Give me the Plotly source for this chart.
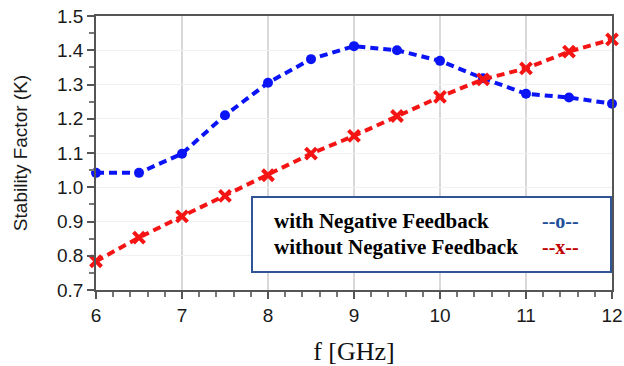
import plotly.graph_objects as go

freq = [6, 6.5, 7, 7.5, 8, 8.5, 9, 9.5, 10, 10.5, 11, 11.5, 12]
k_with = [1.042, 1.042, 1.098, 1.21, 1.305, 1.374, 1.412, 1.40, 1.369, 1.318, 1.273, 1.262, 1.244]
k_without = [0.784, 0.853, 0.915, 0.975, 1.035, 1.098, 1.15, 1.208, 1.264, 1.315, 1.347, 1.396, 1.432]
legend_labels = ["with Negative Feedback", "without Negative Feedback"]
legend_symbols = ["--o--", "--x--"]

fig = go.Figure()
fig.add_trace(go.Scatter(
    x=freq, y=k_with, mode="lines+markers",
    line=dict(color="#0a14f5", width=4, dash="8px,5px"),
    marker=dict(symbol="circle", size=10, color="#0a14f5"),
    showlegend=False, cliponaxis=False))
fig.add_trace(go.Scatter(
    x=freq, y=k_without, mode="lines+markers",
    line=dict(color="#f51414", width=4, dash="8px,5px"),
    marker=dict(symbol="x-thin", size=11, color="#f51414",
                line=dict(color="#f51414", width=4)),
    showlegend=False, cliponaxis=False))

axis_font = dict(family="Liberation Sans, Arial, sans-serif", size=19, color="#1a1a1a")
fig.update_xaxes(
    range=[6, 12], dtick=1, tick0=6, showgrid=True, gridcolor="#d9d9d9", gridwidth=1.5,
    showline=True, linecolor="#555555", linewidth=1.5, mirror=True,
    ticks="outside", ticklen=7, tickcolor="#555555", tickwidth=1.5,
    minor=dict(dtick=0.2, ticks="outside", ticklen=5, tickcolor="#777777", showgrid=False),
    tickfont=axis_font, zeroline=False, automargin=False,
    title=dict(text="f [GHz]", font=dict(family="Liberation Serif, Times New Roman, serif", size=26, color="#111111"), standoff=18))
fig.update_yaxes(
    range=[0.7, 1.5], dtick=0.1, tick0=0.7, tickformat=".1f", showgrid=True, gridcolor="#f0f0f0", gridwidth=1,
    showline=True, linecolor="#555555", linewidth=1.5, mirror=True,
    ticks="outside", ticklen=7, tickcolor="#555555", tickwidth=1.5,
    minor=dict(dtick=0.05, ticks="outside", ticklen=5, tickcolor="#777777", showgrid=False),
    tickfont=axis_font, zeroline=False, automargin=False,
    title=dict(text="Stability Factor (K)", font=dict(family="Liberation Sans, Arial, sans-serif", size=19, color="#1a1a1a"), standoff=24))

# custom legend box
fig.add_shape(type="rect", xref="paper", yref="paper",
              x0=(252-96)/516, x1=(611-96)/516, y0=(290-272)/274, y1=(290-197)/274,
              line=dict(color="#2f5597", width=2), fillcolor="white", layer="above")
serif = "Liberation Serif, Times New Roman, serif"
for i, (lab, sym, col) in enumerate(zip(legend_labels, legend_symbols, ["#1f4e99", "#c00000"])):
    yy = (290 - (221 + i * 26)) / 274
    fig.add_annotation(xref="paper", yref="paper", x=(272-96)/516, y=yy, xanchor="left", yanchor="middle",
                       text="<b>%s</b>" % lab, showarrow=False,
                       font=dict(family=serif, size=21, color="#000000"))
    fig.add_annotation(xref="paper", yref="paper", x=(560-96)/516, y=yy, xanchor="center", yanchor="middle",
                       text="<b>%s</b>" % sym, showarrow=False,
                       font=dict(family=serif, size=20, color=col))

fig.update_layout(
    width=624, height=366, margin=dict(l=96, r=12, t=16, b=76),
    paper_bgcolor="white", plot_bgcolor="white")
fig.write_html("out.html")
